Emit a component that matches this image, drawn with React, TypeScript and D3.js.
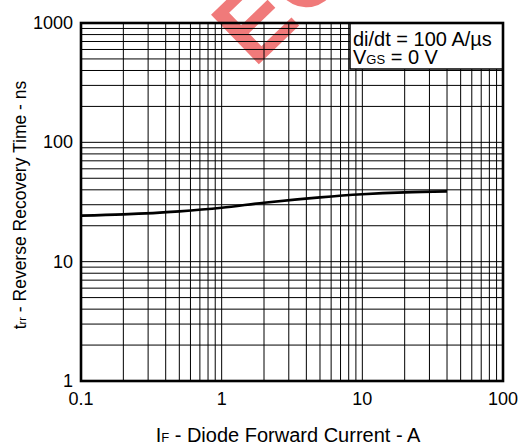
import React from "react";
import * as d3 from "d3";

// forward current (A) vs reverse recovery time (ns)
const currentA = [0.1, 0.2, 0.5, 1, 2, 5, 10, 20, 40];
const trrNs = [24.3, 24.9, 26.4, 28.3, 31.2, 34.6, 36.7, 38.1, 38.8];

const xTicks = [0.1, 1, 10, 100];
const xTickLabels = ["0.1", "1", "10", "100"];
const yTicks = [1, 10, 100, 1000];
const yTickLabels = ["1", "10", "100", "1000"];

const W = 522;
const H = 448;
const margin = { top: 23, right: 19, bottom: 67, left: 81 };
const FONT = "'Liberation Sans', Arial, sans-serif";

const minorValues = (lo: number, hi: number) => {
  const out: number[] = [];
  for (let p = Math.log10(lo); p < Math.log10(hi); p++) {
    for (let d = 1; d <= 9; d++) out.push(d * Math.pow(10, p));
  }
  out.push(hi);
  return out;
};

export default function App() {
  const x = d3.scaleLog().domain([0.1, 100]).range([margin.left, W - margin.right]);
  const y = d3.scaleLog().domain([1, 1000]).range([H - margin.bottom, margin.top]);
  const [x0, x1] = x.range();
  const [y0, y1] = y.range();

  const pts = currentA.map((c, i) => [c, trrNs[i]] as [number, number]);
  const line = d3
    .line<[number, number]>()
    .x((d) => x(d[0]))
    .y((d) => y(d[1]))
    .curve(d3.curveMonotoneX);

  const legX = 350;
  const legBottom = 69;

  return (
    <svg width={W} height={H} style={{ position: "absolute", left: 0, top: 0, background: "#fff" }}>
      {/* watermark */}
      <text
        x={0}
        y={0}
        transform="translate(254,69) rotate(-44)"
        fontFamily={FONT}
        fontWeight="bold"
        fontSize={100}
        fill="#f07a7a"
      >
        EOL
      </text>

      {/* grid */}
      <g stroke="#000" strokeWidth={1}>
        {minorValues(0.1, 100).map((v, i) => (
          <line key={"vx" + i} x1={x(v)} x2={x(v)} y1={y0} y2={y1} />
        ))}
        {minorValues(1, 1000).map((v, i) => (
          <line key={"hy" + i} x1={x0} x2={x1} y1={y(v)} y2={y(v)} />
        ))}
      </g>

      {/* curve */}
      <path d={line(pts) ?? ""} fill="none" stroke="#000" strokeWidth={2.6} />

      {/* legend box */}
      <rect x={legX} y={y1} width={x1 - legX} height={legBottom - y1} fill="#fff" stroke="#000" strokeWidth={1.5} />
      <text x={legX + 3} y={46} fontFamily={FONT} fontSize={20} fill="#000">
        di/dt = 100 A/µs
      </text>
      <text x={legX + 3} y={64} fontFamily={FONT} fontSize={20} fill="#000">
        V<tspan fontSize={13}>GS</tspan> = 0 V
      </text>

      {/* frame */}
      <rect x={x0} y={y1} width={x1 - x0} height={y0 - y1} fill="none" stroke="#000" strokeWidth={2.6} />

      {/* tick labels */}
      <g fontFamily={FONT} fontSize={18} fill="#000">
        {xTicks.map((t, i) => (
          <text key={"xt" + i} x={x(t)} y={405} textAnchor="middle">
            {xTickLabels[i]}
          </text>
        ))}
        {yTicks.map((t, i) => (
          <text key={"yt" + i} x={73} y={y(t) + 6} textAnchor="end">
            {yTickLabels[i]}
          </text>
        ))}
      </g>

      {/* axis titles */}
      <text x={288} y={442} textAnchor="middle" fontFamily={FONT} fontSize={20} fill="#000">
        I<tspan fontSize={13}>F</tspan> - Diode Forward Current - A
      </text>
      <text
        transform={`translate(26,${(y0 + y1) / 2 + 3}) rotate(-90)`}
        textAnchor="middle"
        fontFamily={FONT}
        fontSize={17.5}
        fill="#000"
      >
        t<tspan fontSize={11}>rr</tspan> - Reverse Recovery Time - ns
      </text>
    </svg>
  );
}
